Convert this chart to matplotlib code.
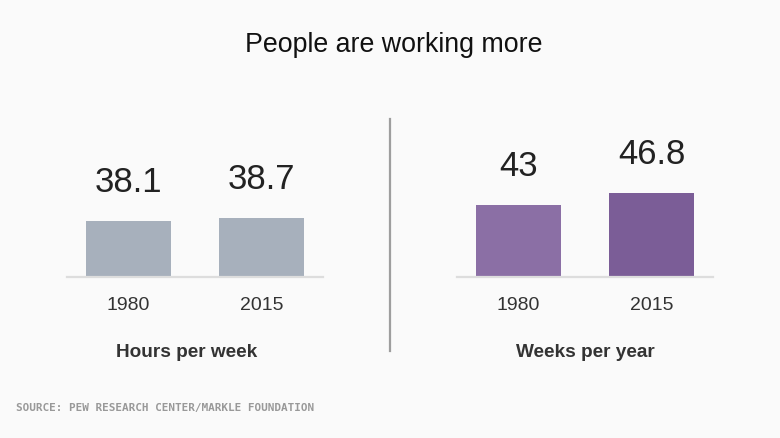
import numpy as np
import matplotlib.pyplot as plt

# data
years = ["1980", "2015"]
hours_per_week = [38.1, 38.7]
weeks_per_year = [43, 46.8]
value_labels_hours = ["38.1", "38.7"]
value_labels_weeks = ["43", "46.8"]

bg = "#fafafa"
plt.rcParams['font.family'] = ['Liberation Sans', 'DejaVu Sans']

fig = plt.figure(figsize=(7.8, 4.39), dpi=100, facecolor=bg)
fig.text(394/780, 1 - 45/439, "People are working more", ha='center', va='center',
         fontsize=19.3, color='#111111')

def panel(rect, vals, labels, colors, ylim, name, name_x):
    ax = fig.add_axes(rect)
    ax.set_facecolor(bg)
    x = np.arange(len(vals))
    ax.bar(x, vals, width=0.64, color=colors, zorder=2)
    for xi, v, lab in zip(x, vals, labels):
        ax.annotate(lab, (xi, v), xytext=(0, 21.5), textcoords='offset points',
                    ha='center', va='baseline', fontsize=25, color='#222222')
    ax.set_xlim(-0.462, 1.462)
    ax.set_ylim(*ylim)
    for s in ['top', 'right', 'left']:
        ax.spines[s].set_visible(False)
    ax.spines['bottom'].set_color('#dddddd')
    ax.spines['bottom'].set_linewidth(1.6)
    ax.set_yticks([])
    ax.set_xticks(x)
    ax.set_xticklabels(years, fontsize=14, color='#333333')
    ax.tick_params(axis='x', length=0, pad=13.5)
    fig.text(name_x, 1 - 353/439, name, ha='center', va='center', fontsize=13.7,
             fontweight='bold', color='#333333')
    return ax

panel([0.0859, 0.3667, 0.328, 0.36], hours_per_week, value_labels_hours,
      ['#a7b0bc', '#a7b0bc'], (24, 63.5), "Hours per week", 187/780)
panel([0.586, 0.3667, 0.328, 0.36], weeks_per_year, value_labels_weeks,
      ['#8b6fa5', '#7b5d97'], (21, 69.5), "Weeks per year", 585/780)

# divider
fig.add_artist(plt.Line2D([0.5, 0.5], [1 - 120/439, 1 - 352/439],
                          color='#9e9e9e', linewidth=1.6))

fig.text(16/780, 1 - 408/439, "SOURCE: PEW RESEARCH CENTER/MARKLE FOUNDATION",
         ha='left', va='center', fontsize=7.9, color='#999999',
         family='DejaVu Sans Mono', fontweight='bold')

fig.savefig("out.png", dpi=100, facecolor=bg)
